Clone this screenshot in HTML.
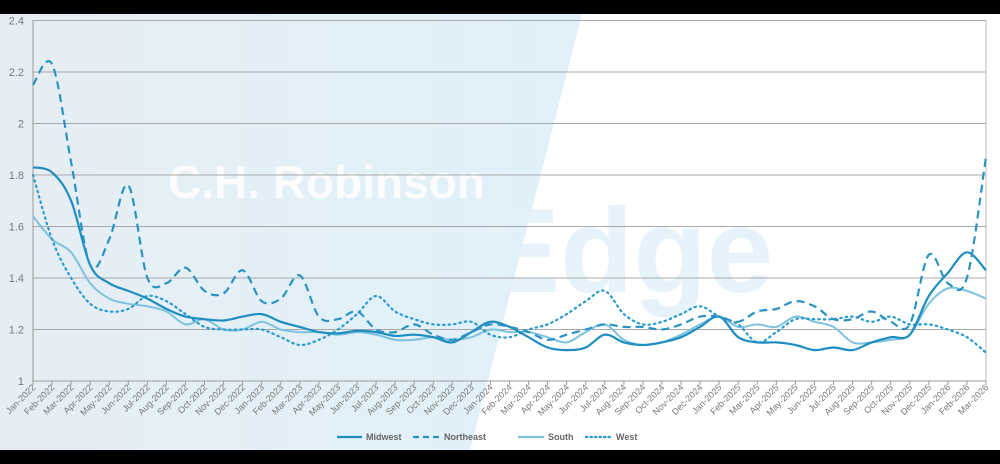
<!DOCTYPE html>
<html><head><meta charset="utf-8"><style>
html,body{margin:0;padding:0;background:#000;}
#w{position:relative;width:1000px;height:464px;overflow:hidden;background:#000;}
svg{position:absolute;left:0;top:0;}
text{font-family:"Liberation Sans",sans-serif;}
</style></head><body><div id="w">
<svg id="s" width="1000" height="464" viewBox="0 0 1000 464">
<defs>
<linearGradient id="g" x1="0" y1="0" x2="1" y2="0">
<stop offset="0" stop-color="#e6eef4"/><stop offset="1" stop-color="#e0f1fa"/>
</linearGradient>
</defs>
<rect x="0" y="14" width="1000" height="436" fill="#ffffff"/>
<polygon points="0,14 582,14 470,450 0,450" fill="url(#g)"/>
<text x="168" y="198" font-size="46" font-weight="bold" fill="#ffffff" opacity="0.85">C.H. Robinson</text>
<text x="480" y="292" font-size="120" font-weight="bold" fill="#e4f2fa" opacity="0.9">Edge</text>
<g id="grid"></g>
<g id="lines"></g>
<g id="xl"></g>
<g font-size="9" font-weight="bold" fill="#666">
<line x1="337" y1="437" x2="362" y2="437" stroke="#1e8dc0" stroke-width="2.2"/><text x="366" y="440">Midwest</text>
<line x1="413" y1="437" x2="440" y2="437" stroke="#2a93c3" stroke-width="2.2" stroke-dasharray="6,4"/><text x="444" y="440">Northeast</text>
<line x1="518" y1="437" x2="544" y2="437" stroke="#7ec2de" stroke-width="2.2"/><text x="548" y="440">South</text>
<line x1="586" y1="437" x2="612" y2="437" stroke="#2a9ad0" stroke-width="2.2" stroke-dasharray="1.5,3" stroke-linecap="round"/><text x="616" y="440">West</text>
</g>
</svg>
<script>
const X0=33,DX=(986-33)/50,Y=v=>381-(v-1)*257.5;
const ns="http://www.w3.org/2000/svg";
function el(t,a,p){const e=document.createElementNS(ns,t);for(const k in a)e.setAttribute(k,a[k]);p.appendChild(e);return e;}
const grid=document.getElementById('grid');
[1,1.2,1.4,1.6,1.8,2,2.2,2.4].forEach(v=>{
 if(v>1)el('line',{x1:X0,x2:986,y1:Y(v),y2:Y(v),stroke:'#a8a8a8','stroke-width':1},grid);
 const t=el('text',{x:24,y:Y(v)+4,'text-anchor':'end','font-size':11,fill:'#777'},grid);t.textContent=String(v);
});
el('line',{x1:X0,x2:X0,y1:20,y2:381,stroke:'#999'},grid);
el('line',{x1:X0,x2:986,y1:381,y2:381,stroke:'#999'},grid);
el('line',{x1:986,x2:986,y1:20,y2:381,stroke:'#bbb'},grid);
const M=['Jan','Feb','Mar','Apr','May','Jun','Jul','Aug','Sep','Oct','Nov','Dec'];
const xl=document.getElementById('xl');
for(let i=0;i<=50;i++){const x=X0+i*DX;el('line',{x1:x,x2:x,y1:381,y2:385,stroke:'#999'},xl);
 const t=el('text',{x:x+3,y:388,'text-anchor':'end','font-size':9,fill:'#777',transform:`rotate(-45 ${x+3} 388)`},xl);
 t.textContent=M[i%12]+'-'+(2022+Math.floor(i/12));}
const D={
mw:[1.83,1.81,1.70,1.45,1.38,1.35,1.32,1.28,1.25,1.24,1.235,1.25,1.26,1.23,1.21,1.19,1.185,1.195,1.19,1.175,1.18,1.17,1.15,1.19,1.23,1.21,1.17,1.13,1.12,1.13,1.18,1.15,1.14,1.15,1.17,1.21,1.25,1.17,1.15,1.15,1.14,1.12,1.13,1.12,1.15,1.17,1.18,1.33,1.42,1.50,1.43],
ne:[2.15,2.23,1.85,1.45,1.55,1.76,1.40,1.38,1.44,1.35,1.34,1.43,1.31,1.32,1.41,1.25,1.24,1.27,1.20,1.19,1.22,1.18,1.16,1.19,1.22,1.21,1.19,1.16,1.18,1.20,1.22,1.21,1.21,1.20,1.22,1.25,1.25,1.23,1.27,1.28,1.31,1.29,1.24,1.24,1.27,1.23,1.22,1.49,1.38,1.40,1.87],
so:[1.64,1.55,1.50,1.38,1.32,1.30,1.29,1.27,1.22,1.24,1.20,1.20,1.23,1.20,1.19,1.19,1.18,1.19,1.18,1.16,1.16,1.17,1.16,1.17,1.20,1.19,1.19,1.17,1.15,1.19,1.22,1.16,1.14,1.15,1.18,1.22,1.25,1.21,1.22,1.21,1.25,1.23,1.21,1.15,1.15,1.16,1.18,1.30,1.36,1.35,1.32],
we:[1.80,1.55,1.40,1.30,1.27,1.28,1.33,1.31,1.26,1.21,1.20,1.20,1.20,1.17,1.14,1.16,1.20,1.26,1.33,1.27,1.24,1.22,1.22,1.23,1.18,1.17,1.20,1.22,1.26,1.31,1.35,1.26,1.22,1.23,1.26,1.29,1.25,1.22,1.15,1.19,1.24,1.24,1.24,1.25,1.23,1.25,1.22,1.22,1.20,1.17,1.11]};
function path(a){const p=a.map((v,i)=>[X0+i*DX,Y(v)]);let d=`M${p[0][0]},${p[0][1]}`;
 for(let i=0;i<p.length-1;i++){const p0=p[Math.max(0,i-1)],p1=p[i],p2=p[i+1],p3=p[Math.min(p.length-1,i+2)];
 const c1=[p1[0]+(p2[0]-p0[0])/6,p1[1]+(p2[1]-p0[1])/6],c2=[p2[0]-(p3[0]-p1[0])/6,p2[1]-(p3[1]-p1[1])/6];
 d+=` C${c1[0].toFixed(1)},${c1[1].toFixed(1)} ${c2[0].toFixed(1)},${c2[1].toFixed(1)} ${p2[0].toFixed(1)},${p2[1].toFixed(1)}`;}return d;}
const L=document.getElementById('lines');
el('path',{d:path(D.so),fill:'none',stroke:'#7ec2de','stroke-width':2},L);
el('path',{d:path(D.we),fill:'none',stroke:'#2a9ad0','stroke-width':2.2,'stroke-dasharray':'1.5,4','stroke-linecap':'round'},L);
el('path',{d:path(D.mw),fill:'none',stroke:'#1e8dc0','stroke-width':2.2},L);
el('path',{d:path(D.ne),fill:'none',stroke:'#2a93c3','stroke-width':2.2,'stroke-dasharray':'8,5'},L);
</script>
</div></body></html>
